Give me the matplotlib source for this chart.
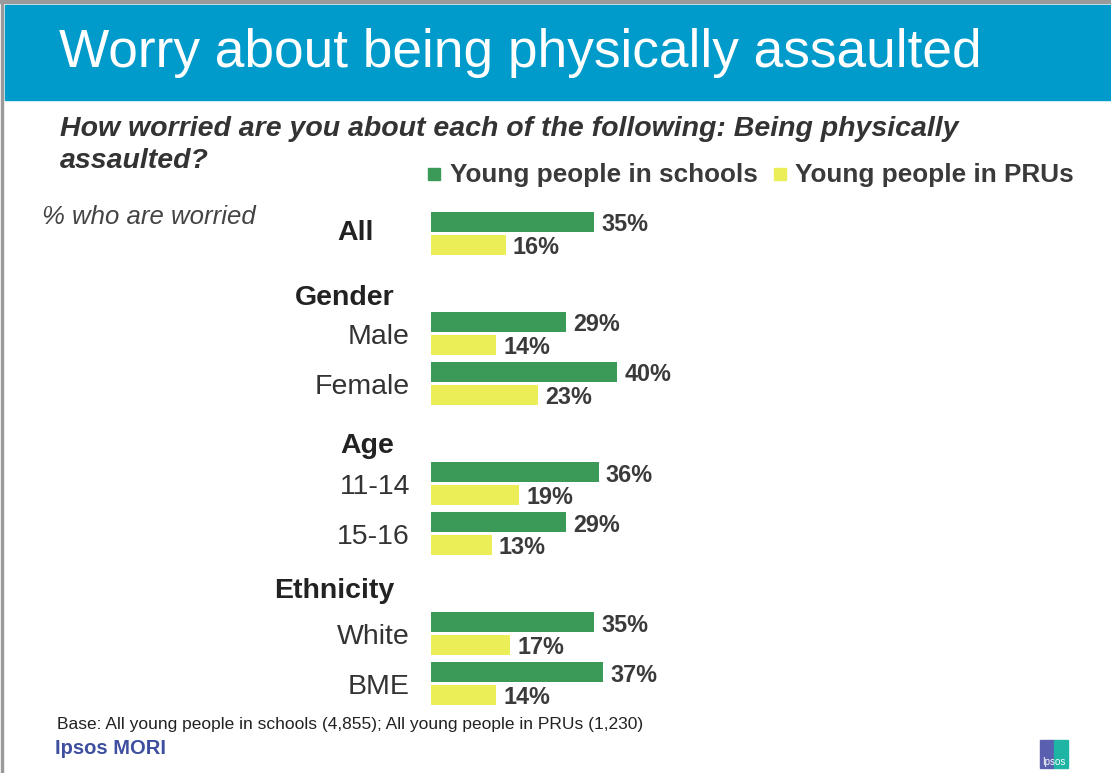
import matplotlib.pyplot as plt
import matplotlib.patches as patches

plt.rcParams['font.family'] = ['Liberation Sans', 'DejaVu Sans']

# row slots (top to bottom); headers have no bars
rows = ['All', 'Gender', 'Male', 'Female', 'Age', '11-14', '15-16', 'Ethnicity', 'White', 'BME']
headers = ['All', 'Gender', 'Age', 'Ethnicity']
schools = [35, None, 29, 40, None, 36, 29, None, 35, 37]
prus = [16, None, 14, 23, None, 19, 13, None, 17, 14]
series_names = ['Young people in schools', 'Young people in PRUs']

green = '#3b9a58'
yellow = '#ebee57'
dark = '#3a3a3a'

W, H = 1111, 773
fig = plt.figure(figsize=(W / 100, H / 100), dpi=100)

def fx(px):
    return px / W

def fy(py):
    return 1 - py / H

# page frame and banner
fig.patches.append(patches.Rectangle((0, fy(3)), 1, 3 / H, transform=fig.transFigure,
                                     color='#9a9a9a', zorder=0))
fig.patches.append(patches.Rectangle((fx(1), 0), 1.5 / W, 1, transform=fig.transFigure,
                                     color='#9a9a9a', zorder=0))
fig.patches.append(patches.Rectangle((fx(5), fy(100)), 1, 95 / H, transform=fig.transFigure,
                                     color='#009acb', zorder=0))
fig.text(fx(59), fy(53), 'Worry about being physically assaulted', color='white',
         fontsize=38.3, va='center', ha='left')

fig.text(fx(60), fy(129), 'How worried are you about each of the following: Being physically',
         fontsize=20.5, fontweight='bold', fontstyle='italic', color='#333333', va='center')
fig.text(fx(60), fy(161), 'assaulted?', fontsize=20.5, fontweight='bold',
         fontstyle='italic', color='#333333', va='center')
fig.text(fx(42), fy(217), '% who are worried', fontsize=18.5, fontstyle='italic',
         color='#444444', va='center')

# legend
fig.patches.append(patches.Rectangle((fx(428), fy(180)), 12 / W, 12 / H,
                                     transform=fig.transFigure, color=green))
fig.text(fx(450), fy(175), series_names[0], fontsize=18.8, fontweight='bold', color=dark, va='center')
fig.patches.append(patches.Rectangle((fx(774), fy(180)), 12 / W, 12 / H,
                                     transform=fig.transFigure, color=yellow))
fig.text(fx(795), fy(175), series_names[1], fontsize=18.8, fontweight='bold', color=dark, va='center')

# bars
px_per_pct = 4.657
ax = fig.add_axes([fx(431), fy(709), px_per_pct * 100 / W, 501 / H])
ax.set_xlim(0, 100)
ax.set_ylim(len(rows) - 0.5, -0.5)
ax.axis('off')

bh = 0.4
off = 0.23
for i, name in enumerate(rows):
    if name in headers and name != 'All':
        continue
    ax.barh(i - off, schools[i], height=bh, color=green)
    ax.barh(i + off, prus[i], height=bh, color=yellow)
    ax.text(schools[i] + 1.5, i - off + 0.06, f'{schools[i]}%', fontsize=16.8, fontweight='bold',
            color=dark, va='center')
    ax.text(prus[i] + 1.5, i + off + 0.05, f'{prus[i]}%', fontsize=16.8, fontweight='bold',
            color=dark, va='center')

# category labels (x in px left of the bar baseline)
header_pos = {'All': (57, 0.0), 'Gender': (37, 0.3), 'Age': (37, 0.26), 'Ethnicity': (37, 0.14)}
for i, name in enumerate(rows):
    if name in headers:
        dx, dy = header_pos[name]
        ax.text(-dx / px_per_pct, i + dy, name, fontsize=20.5, fontweight='bold',
                color='#222222', ha='right', va='center')
    else:
        ax.text(-21 / px_per_pct, i + 0.07, name, fontsize=20.5, color='#333333',
                ha='right', va='center')

# footer
fig.text(fx(57), fy(724), 'Base: All young people in schools (4,855); All young people in PRUs (1,230)',
         fontsize=12.5, color='#222222', va='center')
fig.text(fx(55), fy(749), 'Ipsos MORI', fontsize=14.5, fontweight='bold', color='#3f4fa0', va='center')
fig.patches.append(patches.Rectangle((fx(1040), fy(768)), 14 / W, 28 / H,
                                     transform=fig.transFigure, color='#5a5fb0'))
fig.patches.append(patches.Rectangle((fx(1054), fy(768)), 14 / W, 28 / H,
                                     transform=fig.transFigure, color='#1fb5a5'))
fig.text(fx(1054), fy(762), 'Ipsos', fontsize=7, color='white', ha='center', va='center')

fig.savefig('out.png', dpi=100)
